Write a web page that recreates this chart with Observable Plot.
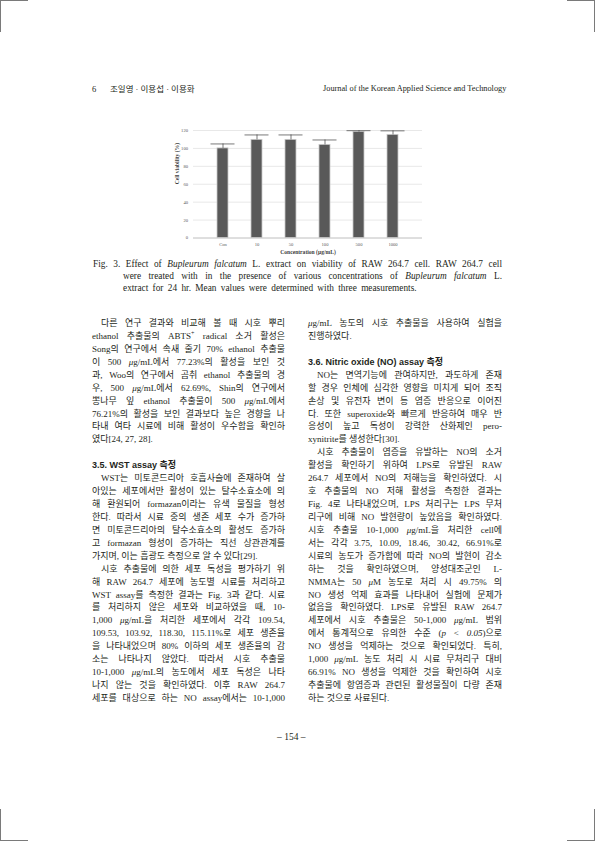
<!DOCTYPE html>
<html><head><meta charset="utf-8">
<script src="https://cdn.jsdelivr.net/npm/d3@7"></script>
<script src="https://cdn.jsdelivr.net/npm/@observablehq/plot@0.6"></script>
<style>
body{margin:0;background:#fff;}
#page{position:relative;width:595px;height:841px;overflow:hidden;font-family:"Liberation Serif","Noto Sans CJK KR",serif;color:#231f20;background:#fff;}
.ln{position:absolute;white-space:nowrap;text-align:justify;text-align-last:justify;font-size:9px;line-height:12px;height:12px;}
.ln.last{text-align-last:left;}
.ln.h{font-family:"Liberation Sans","Noto Sans CJK KR",sans-serif;font-weight:bold;}
.ln.ws{word-spacing:2px;}
.mark{position:absolute;background:#7a7a7a;}
#chart{position:absolute;left:150px;top:120px;}
</style></head><body><div id="page"><div id="chart"></div></div>
<script>
// ---- chart data ----
const categories = ["Con", "10", "50", "100", "500", "1000"];
const viability = [100, 109.54, 109.53, 103.92, 118.30, 115.11];
const errors = [5, 5.5, 5.5, 5.5, 1.5, 4.5];
const yTicks = [0, 20, 40, 60, 80, 100, 120];
const xTitle = "Concentration (\u03bcg/mL)";
const yTitle = "Cell viability (%)";

// ---- page text ----
const headerLeftNum = "6";
const headerAuthors = "조일영 · 이용섭 · 이용화";
const headerJournal = "Journal of the Korean Applied Science and Technology";
const captionLines = [
  ["Fig. 3. Effect of <i>Bupleurum falcatum</i> L. extract on viability of RAW 264.7 cell. RAW 264.7 cell", ""],
  ["were treated with in the presence of various concentrations of <i>Bupleurum falcatum</i> L.", "ind"],
  ["extract for 24 hr. Mean values were determined with three measurements.", "ind last ws"]
];
const mu = "<i>\u03bc</i>";
const leftCol = [
  ["다른 연구 결과와 비교해 볼 때 시호 뿌리", "ind"],
  ["ethanol 추출물의 ABTS<sup style='font-size:6px;line-height:0'>+</sup> radical 소거 활성은", ""],
  ["Song의 연구에서 속새 줄기 70% ethanol 추출물", ""],
  ["이 500 " + mu + "g/mL에서 77.23%의 활성을 보인 것", ""],
  ["과, Woo의 연구에서 곰취 ethanol 추출물의 경", ""],
  ["우, 500 " + mu + "g/mL에서 62.69%, Shin의 연구에서", ""],
  ["뽕나무 잎 ethanol 추출물이 500 " + mu + "g/mL에서", ""],
  ["76.21%의 활성을 보인 결과보다 높은 경향을 나", ""],
  ["타내 여타 시료에 비해 활성이 우수함을 확인하", ""],
  ["였다[24, 27, 28].", "last"],
  ["", ""],
  ["3.5. WST assay 측정", "h last"],
  ["WST는 미토콘드리아 호흡사슬에 존재하여 살", "ind"],
  ["아있는 세포에서만 활성이 있는 탈수소효소에 의", ""],
  ["해 환원되어 formazan이라는 유색 물질을 형성", ""],
  ["한다. 따라서 시료 중의 생존 세포 수가 증가하", ""],
  ["면 미토콘드리아의 탈수소효소의 활성도 증가하", ""],
  ["고 formazan 형성이 증가하는 직선 상관관계를", ""],
  ["가지며, 이는 흡광도 측정으로 알 수 있다[29].", "last"],
  ["시호 추출물에 의한 세포 독성을 평가하기 위", "ind"],
  ["해 RAW 264.7 세포에 농도별 시료를 처리하고", ""],
  ["WST assay를 측정한 결과는 Fig. 3과 같다. 시료", ""],
  ["를 처리하지 않은 세포와 비교하였을 때, 10-", ""],
  ["1,000 " + mu + "g/mL을 처리한 세포에서 각각 109.54,", ""],
  ["109.53, 103.92, 118.30, 115.11%로 세포 생존율", ""],
  ["을 나타내었으며 80% 이하의 세포 생존율의 감", ""],
  ["소는 나타나지 않았다. 따라서 시호 추출물", ""],
  ["10-1,000 " + mu + "g/mL의 농도에서 세포 독성은 나타", ""],
  ["나지 않는 것을 확인하였다. 이후 RAW 264.7", ""],
  ["세포를 대상으로 하는 NO assay에서는 10-1,000", ""]
];
const rightCol = [
  [mu + "g/mL 농도의 시호 추출물을 사용하여 실험을", ""],
  ["진행하였다.", "last"],
  ["", ""],
  ["3.6. Nitric oxide (NO) assay 측정", "h last"],
  ["NO는 면역기능에 관여하지만, 과도하게 존재", "ind"],
  ["할 경우 인체에 심각한 영향을 미치게 되어 조직", ""],
  ["손상 및 유전자 변이 등 염증 반응으로 이어진", ""],
  ["다. 또한 superoxide와 빠르게 반응하여 매우 반", ""],
  ["응성이 높고 독성이 강력한 산화제인 pero-", ""],
  ["xynitrite를 생성한다[30].", "last"],
  ["시호 추출물이 염증을 유발하는 NO의 소거", "ind"],
  ["활성을 확인하기 위하여 LPS로 유발된 RAW", ""],
  ["264.7 세포에서 NO의 저해능을 확인하였다. 시", ""],
  ["호 추출물의 NO 저해 활성을 측정한 결과는", ""],
  ["Fig. 4로 나타내었으며, LPS 처리구는 LPS 무처", ""],
  ["리구에 비해 NO 발현량이 높았음을 확인하였다.", ""],
  ["시호 추출물 10-1,000 " + mu + "g/mL을 처리한 cell에", ""],
  ["서는 각각 3.75, 10.09, 18.46, 30.42, 66.91%로", ""],
  ["시료의 농도가 증가함에 따라 NO의 발현이 감소", ""],
  ["하는 것을 확인하였으며, 양성대조군인 L-", ""],
  ["NMMA는 50 " + mu + "M 농도로 처리 시 49.75% 의", ""],
  ["NO 생성 억제 효과를 나타내어 실험에 문제가", ""],
  ["없음을 확인하였다. LPS로 유발된 RAW 264.7", ""],
  ["세포에서 시호 추출물은 50-1,000 " + mu + "g/mL 범위", ""],
  ["에서 통계적으로 유의한 수준 (<i>p</i> &lt; <i>0.05</i>)으로", ""],
  ["NO 생성을 억제하는 것으로 확인되었다. 특히,", ""],
  ["1,000 " + mu + "g/mL 농도 처리 시 시료 무처리구 대비", ""],
  ["66.91% NO 생성을 억제한 것을 확인하여 시호", ""],
  ["추출물에 항염증과 관련된 활성물질이 다량 존재", ""],
  ["하는 것으로 사료된다.", "last"]
];
const pageNumber = "– 154 –";

// ---- build page ----
const page = document.getElementById("page");
function addLine(html, cls, left, width, cy, size, indent) {
  const d = document.createElement("div");
  d.className = "ln " + (cls || "");
  const ind = (cls || "").includes("ind") ? indent : 0;
  d.style.left = (left + ind) + "px";
  d.style.width = (width - ind) + "px";
  d.style.top = (cy - 6) + "px";
  if (size) d.style.fontSize = size + "px";
  d.innerHTML = html;
  page.appendChild(d);
}
// crop marks
[[0,0,28,1],[0,0,1,32],[567,0,28,1],[594,0,1,32],[0,840,28,1],[0,809,1,32],[567,840,28,1],[594,809,1,32]]
  .forEach(([l,t,w,h]) => { const m = document.createElement("div"); m.className="mark";
    Object.assign(m.style,{left:l+"px",top:t+"px",width:w+"px",height:h+"px"}); page.appendChild(m); });
// header
addLine(headerLeftNum, "last", 92, 10, 89, 8.5, 0);
addLine(headerAuthors, "", 110, 80, 89, 8.5, 0);
addLine(headerJournal, "", 323, 179, 89, 8.3, 0);
// caption
captionLines.forEach(([t, c], i) => addLine(t, c, 93, 409, 264 + i * 12, 9.3, 30));
// columns
const pitch = 12.93;
leftCol.forEach(([t, c], i) => { if (t) addLine(t, c, 92, 193, 323 + i * pitch, 9, 9); });
rightCol.forEach(([t, c], i) => { if (t) addLine(t, c, 308, 194, 323 + i * pitch, 9, 9); });
// page number
addLine(pageNumber, "last", 277, 60, 737, 9.5, 0);

// ---- chart ----
const data = categories.map((c, i) => ({c, v: viability[i], e: errors[i]}));
const chart = Plot.plot({
  width: 300, height: 140,
  marginLeft: 43, marginRight: 28, marginTop: 10, marginBottom: 22.5,
  style: {fontFamily: "Liberation Serif", fontSize: "4.6px", color: "#595959", background: "transparent", overflow: "visible"},
  x: {domain: categories, padding: 0.67},
  y: {domain: [0, 120]},
  marks: [
    Plot.gridY(yTicks, {stroke: "#d9d9d9", strokeOpacity: 1, strokeWidth: 0.6}),
    Plot.ruleY([0], {stroke: "#bfbfbf", strokeWidth: 0.8}),
    Plot.barY(data, {x: "c", y: "v", fill: "#595959", stroke: "#c8c8c8", strokeWidth: 0.8}),
    Plot.ruleX(data, {x: "c", y1: "v", y2: d => d.v + d.e, stroke: "#404040", strokeWidth: 0.7}),
    Plot.tickY(data, {x: "c", y: d => d.v + d.e, stroke: "#404040", strokeWidth: 0.7, insetLeft: 17.5, insetRight: 17.5}),
    Plot.axisX({tickSize: 0, tickPadding: 4.5, label: null, fill: "#595959"}),
    Plot.axisY(yTicks, {tickSize: 0, tickPadding: 5.5, label: null, fill: "#595959"}),
    Plot.text([xTitle], {frameAnchor: "bottom", lineAnchor: "middle", dy: 14.5, fontWeight: "bold", fontSize: 5.6, fill: "#404040"}),
    Plot.text([yTitle], {frameAnchor: "left", rotate: -90, dx: -16, fontWeight: "bold", fontSize: 5.6, fill: "#404040"})
  ]
});
document.getElementById("chart").appendChild(chart);
</script></body></html>
